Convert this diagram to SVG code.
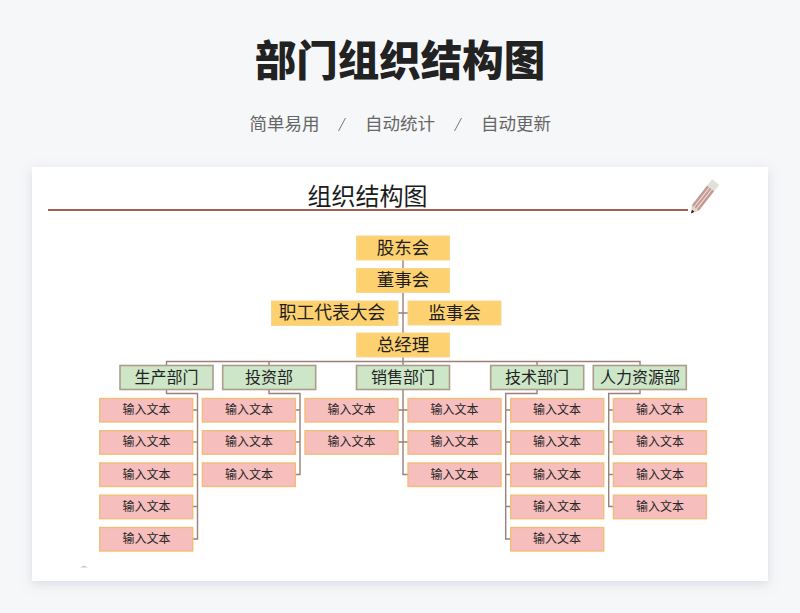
<svg xmlns="http://www.w3.org/2000/svg" width="800" height="613" viewBox="0 0 800 613">
<defs>
<style>
text{font-family:"Noto Sans CJK SC","Liberation Sans",sans-serif;text-anchor:middle}
.y{fill:#fdd16f;stroke:#f8d68f;stroke-width:1}
.g{fill:#cde6c8;stroke:#ad9c8c;stroke-width:1.6}
.p{fill:#f6bebd;stroke:#f2bd78;stroke-width:1.4}
.ty{font-size:17.5px;fill:#1e1e1e}
.tg{font-size:16px;fill:#222}
.tp{font-size:12px;fill:#262626}
#connectors path{fill:none;stroke:#9c7f78;stroke-width:1.4}
</style>
<filter id="sh" x="-5%" y="-5%" width="110%" height="112%"><feDropShadow dx="0" dy="3" stdDeviation="6" flood-color="#8a93a3" flood-opacity=".28"/></filter>
</defs>
<rect width="800" height="613" fill="#f6f7f9"/>
<text x="400" y="76" style="font-size:41.5px;font-weight:900;fill:#222">部门组织结构图</text>
<g style="font-size:17.5px;fill:#666">
<text x="284.500" y="130">简单易用</text>
<path d="M338.500 131L345.500 118M454.500 131L461.500 118" fill="none" stroke="#777" stroke-width="1"/>
<text x="400" y="130">自动统计</text>
<text x="516" y="130">自动更新</text>
</g>
<rect x="32" y="167" width="736" height="414" fill="#fff" filter="url(#sh)"/>
<text x="367.500" y="205" style="font-size:24px;fill:#1c1c1c">组织结构图</text>
<path d="M48 210H688" stroke="#a9604f" stroke-width="1.8" fill="none"/>
<g id="pencil" transform="translate(691 213.500) rotate(38)">
<path d="M0 0L-4.500 -7H4.500Z" fill="#e6d3c4"/>
<path d="M0 0L-1.500 -3.500H1.500Z" fill="#1a1a1a"/>
<rect x="-4.500" y="-32" width="9" height="25" fill="#c39a92"/>
<path d="M-1.500 -32V-7M1.500 -32V-7" stroke="#efe4e0" stroke-width="1"/>
<rect x="-4.500" y="-40" width="9" height="8" fill="#dde1da"/>
</g>
<path id="mark" d="M80 567.500L84 565.500L88 567.500Z" fill="#c8c8c4"/>
<g id="connectors">
<path d="M403 260V268.500M403 292.500V333M398 313H408M403 357V365.500M166.500 365.500V361.500H640V365.500M269 361.500V365.500M537 361.500V365.500"/>
<path d="M166.500 389.500V393.500H197.500V539H193M193 410H197.500M193 442H197.500M193 474.500H197.500M193 506.500H197.500"/>
<path d="M269 389.500V393.500H300V474.500H295.500M295.500 410H300M295.500 442H300"/>
<path d="M403 389.500V474.500H408M398 410H408M398 442H408"/>
<path d="M537 389.500V393.500H505.700V539H510.500M505.700 410H510.500M505.700 442H510.500M505.700 474.500H510.500M505.700 506.500H510.500"/>
<path d="M640 389.500V393.500H608.700V506.500H613.500M608.700 410H613.500M608.700 442H613.500M608.700 474.500H613.500"/>
</g>
<g id="n1"><rect class="y" x="356.500" y="236" width="93" height="24"/><text class="ty" x="403" y="254">股东会</text></g>
<g id="n2"><rect class="y" x="356.500" y="268.500" width="93" height="24"/><text class="ty" x="403" y="286">董事会</text></g>
<g id="n3"><rect class="y" x="271.500" y="301" width="126.500" height="24.500"/><text class="ty" x="332" y="318.500" style="font-size:17.8px">职工代表大会</text></g>
<g id="n4"><rect class="y" x="408" y="301" width="93" height="24"/><text class="ty" x="454.500" y="318.500">监事会</text></g>
<g id="n5"><rect class="y" x="356.500" y="333" width="93" height="24"/><text class="ty" x="403" y="351">总经理</text></g>
<g id="d1"><rect class="g" x="120" y="365.500" width="93" height="24"/><text class="tg" x="166.500" y="382.500">生产部门</text></g>
<g id="d2"><rect class="g" x="222.700" y="365.500" width="93" height="24"/><text class="tg" x="269" y="382.500">投资部</text></g>
<g id="d3"><rect class="g" x="356.500" y="365.500" width="93" height="24"/><text class="tg" x="403" y="382.500">销售部门</text></g>
<g id="d4"><rect class="g" x="490.700" y="365.500" width="93" height="24"/><text class="tg" x="537" y="382.500">技术部门</text></g>
<g id="d5"><rect class="g" x="593.300" y="365.500" width="93" height="24"/><text class="tg" x="640" y="382.500">人力资源部</text></g>
<g id="a1"><rect class="p" x="99.700" y="398.500" width="93" height="23.500"/><text class="tp" x="146.500" y="414">输入文本</text></g>
<g id="a2"><rect class="p" x="99.700" y="430.700" width="93" height="23.500"/><text class="tp" x="146.500" y="446">输入文本</text></g>
<g id="a3"><rect class="p" x="99.700" y="463" width="93" height="23.500"/><text class="tp" x="146.500" y="478.500">输入文本</text></g>
<g id="a4"><rect class="p" x="99.700" y="495.200" width="93" height="23.500"/><text class="tp" x="146.500" y="510.500">输入文本</text></g>
<g id="a5"><rect class="p" x="99.700" y="527.500" width="93" height="23.500"/><text class="tp" x="146.500" y="543">输入文本</text></g>
<g id="b1"><rect class="p" x="202.400" y="398.500" width="93" height="23.500"/><text class="tp" x="249" y="414">输入文本</text></g>
<g id="b2"><rect class="p" x="202.400" y="430.700" width="93" height="23.500"/><text class="tp" x="249" y="446">输入文本</text></g>
<g id="b3"><rect class="p" x="202.400" y="463" width="93" height="23.500"/><text class="tp" x="249" y="478.500">输入文本</text></g>
<g id="c1"><rect class="p" x="305" y="398.500" width="93" height="23.500"/><text class="tp" x="351.500" y="414">输入文本</text></g>
<g id="c2"><rect class="p" x="305" y="430.700" width="93" height="23.500"/><text class="tp" x="351.500" y="446">输入文本</text></g>
<g id="e1"><rect class="p" x="408" y="398.500" width="93" height="23.500"/><text class="tp" x="454.500" y="414">输入文本</text></g>
<g id="e2"><rect class="p" x="408" y="430.700" width="93" height="23.500"/><text class="tp" x="454.500" y="446">输入文本</text></g>
<g id="e3"><rect class="p" x="408" y="463" width="93" height="23.500"/><text class="tp" x="454.500" y="478.500">输入文本</text></g>
<g id="f1"><rect class="p" x="510.700" y="398.500" width="93" height="23.500"/><text class="tp" x="557" y="414">输入文本</text></g>
<g id="f2"><rect class="p" x="510.700" y="430.700" width="93" height="23.500"/><text class="tp" x="557" y="446">输入文本</text></g>
<g id="f3"><rect class="p" x="510.700" y="463" width="93" height="23.500"/><text class="tp" x="557" y="478.500">输入文本</text></g>
<g id="f4"><rect class="p" x="510.700" y="495.200" width="93" height="23.500"/><text class="tp" x="557" y="510.500">输入文本</text></g>
<g id="f5"><rect class="p" x="510.700" y="527.500" width="93" height="23.500"/><text class="tp" x="557" y="543">输入文本</text></g>
<g id="h1"><rect class="p" x="613.400" y="398.500" width="93" height="23.500"/><text class="tp" x="660" y="414">输入文本</text></g>
<g id="h2"><rect class="p" x="613.400" y="430.700" width="93" height="23.500"/><text class="tp" x="660" y="446">输入文本</text></g>
<g id="h3"><rect class="p" x="613.400" y="463" width="93" height="23.500"/><text class="tp" x="660" y="478.500">输入文本</text></g>
<g id="h4"><rect class="p" x="613.400" y="495.200" width="93" height="23.500"/><text class="tp" x="660" y="510.500">输入文本</text></g>
</svg>
